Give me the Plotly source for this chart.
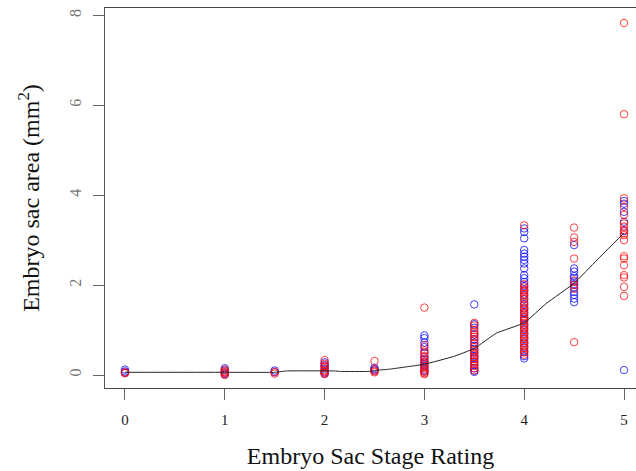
import plotly.graph_objects as go

# ---- data ----
stages = [0, 1, 1.5, 2, 2.5, 3, 3.5, 4, 4.5, 5]

red_vals = {
    0: [0.04, 0.06],
    1: [0.03, 0.06, 0.08, 0.12, 0.0],
    1.5: [0.03, 0.07],
    2: [0.33, 0.25, 0.2, 0.15, 0.1, 0.05, 0.02, 0.08],
    2.5: [0.31, 0.12, 0.06, 0.08],
    3: [1.5, 0.66, 0.55, 0.48, 0.42, 0.36, 0.3, 0.25, 0.2, 0.15, 0.1, 0.07, 0.04, 0.02],
    3.5: [1.16, 1.1, 1.0, 0.95, 0.9, 0.85, 0.78, 0.7, 0.62, 0.55, 0.5, 0.45, 0.4, 0.35,
          0.3, 0.25, 0.2, 0.15, 0.1],
    4: [3.33, 2.02, 1.95, 1.9, 1.85, 1.8, 1.75, 1.7, 1.62, 1.55, 1.5, 1.45, 1.4, 1.35,
        1.3, 1.25, 1.2, 1.15, 1.1, 1.05, 1.0, 0.95, 0.9, 0.85, 0.8, 0.75, 0.7, 0.65,
        0.6, 0.55, 0.5, 0.45],
    4.5: [3.28, 3.06, 2.96, 2.59, 2.1, 2.0, 1.92, 0.73],
    5: [7.83, 5.8, 3.93, 3.74, 3.56, 3.37, 3.3, 3.22, 3.15, 3.11, 3.0, 2.64, 2.59,
        2.44, 2.22, 2.17, 1.96, 1.76],
}

blue_vals = {
    0: [0.08, 0.12, 0.05],
    1: [0.02, 0.05, 0.1, 0.15],
    1.5: [0.1, 0.06],
    2: [0.28, 0.22, 0.18, 0.12, 0.06, 0.03],
    2.5: [0.16, 0.1, 0.13],
    3: [0.88, 0.82, 0.72, 0.62, 0.5, 0.4, 0.33, 0.28, 0.22, 0.18, 0.12, 0.08],
    3.5: [1.57, 1.13, 1.05, 0.9, 0.8, 0.72, 0.65, 0.58, 0.5, 0.42, 0.38, 0.3, 0.22,
          0.15, 0.1, 0.07],
    4: [3.26, 3.18, 3.04, 2.78, 2.7, 2.63, 2.56, 2.48, 2.37, 2.22, 2.15, 2.07, 1.98,
        1.88, 1.78, 1.68, 1.58, 1.48, 1.38, 1.28, 1.22, 1.12, 1.02, 0.92, 0.82, 0.72,
        0.62, 0.52, 0.42, 0.37],
    4.5: [2.89, 2.37, 2.3, 2.2, 2.15, 2.08, 2.02, 1.95, 1.85, 1.78, 1.7, 1.62],
    5: [3.87, 3.81, 3.63, 3.41, 3.2, 0.11],
}

fit_x = [0, 1, 1.5, 1.62, 2.1, 2.15, 2.45, 2.5, 2.65, 3, 3.29, 3.5, 3.72, 4, 4.22, 4.5, 4.73, 5]
fit_y = [0.06, 0.06, 0.06, 0.09, 0.09, 0.08, 0.08, 0.1, 0.13, 0.24, 0.41, 0.59, 0.93, 1.16,
         1.59, 2.04, 2.56, 3.16]

x_ticks = [0, 1, 2, 3, 4, 5]
y_ticks = [0, 2, 4, 6, 8]

x_title = "Embryo Sac Stage Rating"
y_title = "Embryo sac area (mm<sup>2</sup>)"

# ---- build ----
def flatten(d):
    xs, ys = [], []
    for s in stages:
        for v in d.get(s, []):
            xs.append(s)
            ys.append(v)
    return xs, ys

rx, ry = flatten(red_vals)
bx, by = flatten(blue_vals)

FONT = "Liberation Serif"

fig = go.Figure()
fig.add_trace(go.Scatter(x=bx, y=by, mode="markers",
                         marker=dict(symbol="circle-open", size=7.5,
                                     color="rgba(0,0,255,0.75)",
                                     line=dict(width=1)),
                         showlegend=False, hoverinfo="skip"))
fig.add_trace(go.Scatter(x=rx, y=ry, mode="markers",
                         marker=dict(symbol="circle-open", size=7.5,
                                     color="rgba(255,0,0,0.75)",
                                     line=dict(width=1)),
                         showlegend=False, hoverinfo="skip"))
fig.add_trace(go.Scatter(x=fit_x, y=fit_y, mode="lines",
                         line=dict(color="#222222", width=1, shape="spline", smoothing=0.3),
                         showlegend=False, hoverinfo="skip"))

fig.update_layout(
    width=636, height=471,
    margin=dict(l=105, r=0, t=8, b=83),
    paper_bgcolor="white", plot_bgcolor="white",
    font=dict(family=FONT, color="#222222"),
    xaxis=dict(range=[-0.2, 5.12], tickvals=x_ticks, ticktext=[str(t) for t in x_ticks],
               showgrid=False, zeroline=False,
               showline=True, mirror=True, linecolor="#444444", linewidth=1,
               ticks="outside", ticklen=11, tickwidth=1, tickcolor="#666666",
               tickfont=dict(family=FONT, size=15, color="#222222"),
               ticklabelstandoff=7,
               title=dict(text=x_title, font=dict(family=FONT, size=24, color="#111111"),
                          standoff=20)),
    yaxis=dict(range=[-0.289, 8.163], tickvals=y_ticks, ticktext=[str(t) for t in y_ticks],
               showgrid=False, zeroline=False,
               showline=True, linecolor="#555555", linewidth=1,
               ticks="outside", ticklen=11, tickwidth=1, tickcolor="#666666",
               tickangle=-90,
               tickfont=dict(family=FONT, size=16, color="#777777"),
               ticklabelstandoff=6,
               title=dict(text=y_title, font=dict(family=FONT, size=24, color="#111111"),
                          standoff=20)),
)

fig.write_html("out.html")
